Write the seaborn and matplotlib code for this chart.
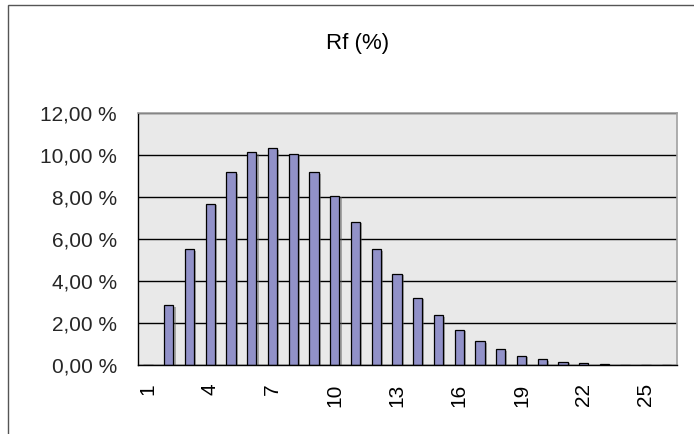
import matplotlib
matplotlib.use("Agg")
import matplotlib.pyplot as plt
import matplotlib.patheffects as pe
from matplotlib.patches import Rectangle
from matplotlib.ticker import FixedLocator, FixedFormatter
import seaborn as sns
import pandas as pd

categories = [str(i) for i in range(1, 27)]
values = [0.0, 2.85, 5.51, 7.66, 9.17, 10.12, 10.31, 10.04, 9.17, 8.04,
          6.83, 5.51, 4.36, 3.22, 2.37, 1.70, 1.14, 0.76, 0.46, 0.29,
          0.17, 0.09, 0.06, 0.0, 0.0, 0.0]
y_ticks = [0, 2, 4, 6, 8, 10, 12]
y_tick_labels = ["0,00 %", "2,00 %", "4,00 %", "6,00 %", "8,00 %", "10,00 %", "12,00 %"]
x_label_every = 3
title = "Rf (%)"

sns.set_style("white")
plt.rcParams['font.family'] = ['Liberation Sans', 'DejaVu Sans']

df = pd.DataFrame({"cat": categories, "val": values})

fig = plt.figure(figsize=(6.94, 4.34), dpi=100)
fig.patch.set_facecolor("white")
# chart area border (cropped at right/bottom)
fig.patches.append(Rectangle((8 / 694, -0.05), 1.2, 1 - 5 / 434 + 0.05,
                             transform=fig.transFigure, fill=False,
                             edgecolor="#555555", linewidth=1.0))

ax = fig.add_axes([137.7 / 694, 1 - 365.3 / 434, (677 - 137.7) / 694, (365.3 - 112.7) / 434])
ax.set_facecolor("#E9E9E9")

sns.barplot(data=df, x="cat", y="val", color="#9191C8", saturation=1,
            edgecolor="black", linewidth=0.9, width=0.45, ax=ax)
for p in ax.patches:
    p.set_path_effects([pe.SimplePatchShadow(offset=(1.5, -1.0), shadow_rgbFace="#606060", alpha=0.5),
                        pe.Normal()])

n = len(categories)
ax.set_xlim(-0.5, n - 0.5)
ax.set_ylim(0, 12)
ax.set_axisbelow(True)
ax.yaxis.grid(True, color="black", linewidth=1.0)
ax.xaxis.grid(False)

ax.yaxis.set_major_locator(FixedLocator(y_ticks))
ax.yaxis.set_major_formatter(FixedFormatter(y_tick_labels))

major_pos = list(range(0, n, x_label_every))
ax.xaxis.set_major_locator(FixedLocator(major_pos))
ax.xaxis.set_major_formatter(FixedFormatter([categories[i] for i in major_pos]))
ax.xaxis.set_minor_locator(FixedLocator([i - 0.5 for i in range(n + 1)]))

ax.tick_params(axis="x", which="major", length=0, pad=13, labelsize=15, labelrotation=90, colors="black")
ax.tick_params(axis="x", which="minor", length=6, width=1, color="black", direction="out")
ax.tick_params(axis="y", which="major", length=6, width=1, color="black", direction="out",
               labelsize=15, pad=9)
for lbl in ax.get_xticklabels():
    lbl.set_va("top")
    lbl.set_ha("center")

ax.set_xlabel("")
ax.set_ylabel("")

for s in ["left", "bottom"]:
    ax.spines[s].set_color("black")
    ax.spines[s].set_linewidth(1.0)
for s in ["top", "right"]:
    ax.spines[s].set_color("#A0A0A0")
    ax.spines[s].set_linewidth(1.2)

fig.text(358 / 694, 1 - 43 / 434, title, ha="center", va="center", fontsize=16, color="black")

fig.savefig("out.png", dpi=100, facecolor="white")
